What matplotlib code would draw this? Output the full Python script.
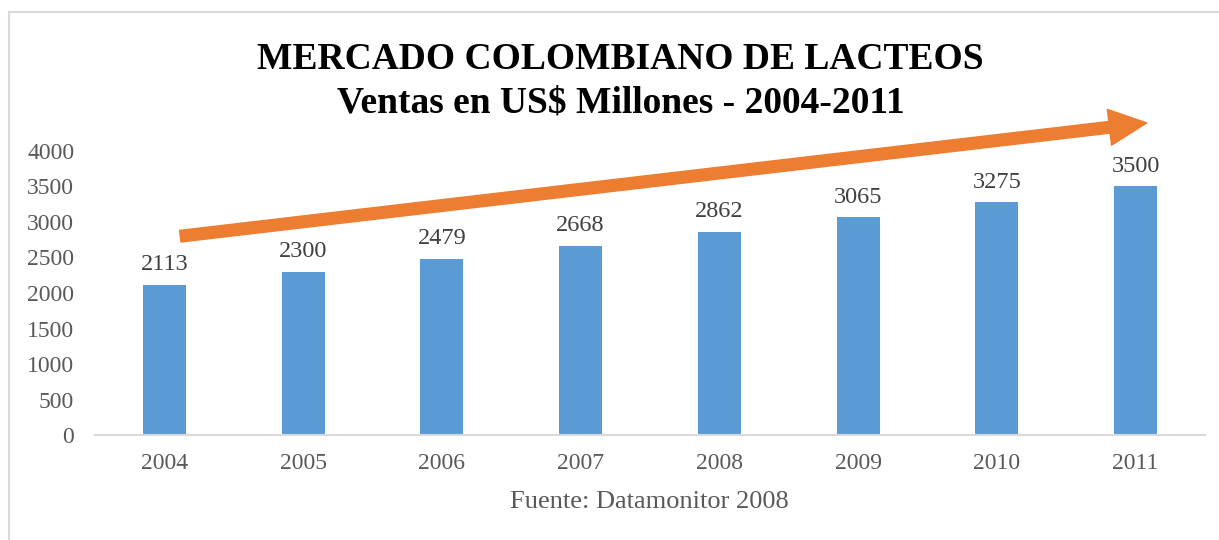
import matplotlib.pyplot as plt
from matplotlib.patches import Rectangle
import numpy as np

# data
years = ["2004", "2005", "2006", "2007", "2008", "2009", "2010", "2011"]
ventas = [2113, 2300, 2479, 2668, 2862, 3065, 3275, 3500]
y_ticks = [0, 500, 1000, 1500, 2000, 2500, 3000, 3500, 4000]

# trend arrow (start / tip in data units)
arrow_start = (0.115, 2800)
arrow_tip = (7.08, 4395)

plt.rcParams["font.family"] = ["Liberation Serif", "DejaVu Serif"]

fig = plt.figure(figsize=(12.19, 5.40), dpi=100)
ax = fig.add_axes([0.0779, 0.1944, 0.9106, 0.526])

x = np.arange(len(years))
bars = ax.bar(x, ventas, width=0.31, color="#5B9BD5", zorder=2)

# value labels above each bar
for xi, v in zip(x, ventas):
    ax.annotate(str(v), (xi, v), xytext=(0, 7), textcoords="offset points",
                ha="center", va="bottom", fontsize=17.5, color="#404040")

ax.set_xlim(-0.5, len(years) - 0.5)
ax.set_ylim(0, 4000)
ax.set_xticks(x)
ax.set_xticklabels(years)
ax.set_yticks(y_ticks)
ax.tick_params(axis="both", length=0, labelsize=17, labelcolor="#595959")
ax.tick_params(axis="x", pad=13)
ax.tick_params(axis="y", pad=15)

for side in ["top", "right", "left"]:
    ax.spines[side].set_visible(False)
ax.spines["bottom"].set_color("#D9D9D9")
ax.spines["bottom"].set_linewidth(1.5)

# orange growth arrow
ax.annotate("", xy=arrow_tip, xytext=arrow_start,
            arrowprops=dict(arrowstyle="simple,tail_width=0.42,head_width=1.3,head_length=1.35",
                            mutation_scale=20, color="#ED7D31", shrinkA=0, shrinkB=0),
            annotation_clip=False, zorder=3)

fig.text(0.509, 0.889, "MERCADO COLOMBIANO DE LACTEOS", ha="center", va="center",
         fontsize=27, fontweight="bold", color="black")
fig.text(0.509, 0.809, "Ventas en US$ Millones - 2004-2011", ha="center", va="center",
         fontsize=27, fontweight="bold", color="black")
fig.text(0.5325, 0.071, "Fuente: Datamonitor 2008", ha="center", va="center",
         fontsize=19, color="#595959")

# chart area border
fig.patches.append(Rectangle((9 / 1219, -0.1), 1.2, 1 - 12 / 540 + 0.1,
                             transform=fig.transFigure, fill=False,
                             edgecolor="#D9D9D9", linewidth=1.5))

fig.savefig("out.png", dpi=100)
